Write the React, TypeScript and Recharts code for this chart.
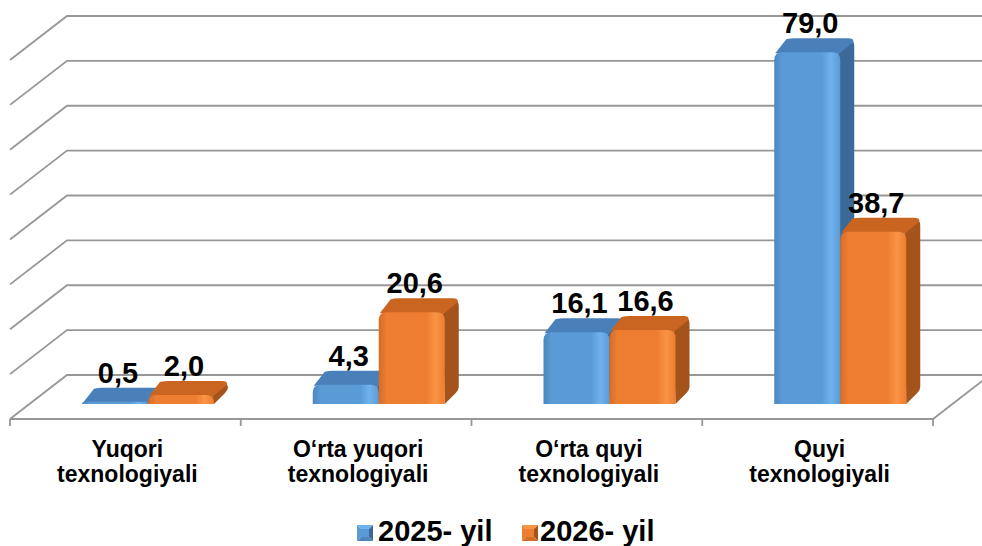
import React from 'react';
import { BarChart, Bar, XAxis, YAxis, CartesianGrid, Legend, LabelList } from 'recharts';

// ---- data ----
const categories = [
  'Yuqori\ntexnologiyali',
  'O‘rta yuqori\ntexnologiyali',
  'O‘rta quyi\ntexnologiyali',
  'Quyi\ntexnologiyali',
];
const series2025 = [0.5, 4.3, 16.1, 79.0];
const series2026 = [2.0, 20.6, 16.6, 38.7];
const seriesNames = ['2025- yil', '2026- yil'];
const yTicks = [0, 10, 20, 30, 40, 50, 60, 70, 80];

const data = categories.map((name, i) => ({ name, y2025: series2025[i], y2026: series2026[i] }));

// ---- style / layout ----
const W = 982;
const H = 546;
const FONT = '"Liberation Sans", Arial, sans-serif';
const DX = 14;
const DY = 14;
const FRONT_DROP = 29;
const FRONT_SCALE = 0.992;
const GRID = '#979797';

const palettes = {
  blue: { front: '#5B9BD5', light: '#6FB2EE', dark: '#4C86BE', top: '#4A80BA', side: '#3C6A98', id: 'gBlue' },
  orange: { front: '#ED7D31', light: '#FA9444', dark: '#D46D28', top: '#C96520', side: '#A4531B', id: 'gOrange' },
};

const frontGeom = (x: number, y: number, width: number, height: number) => {
  const base = y + height + FRONT_DROP;
  const h = Math.max(height * FRONT_SCALE, 1.5);
  return { x, top: base - h, base, w: width };
};

const makeShape = (p: typeof palettes.blue) => (props: any) => {
  const { x, y, width, height } = props;
  if (x == null || y == null || !width) return null;
  const g = frontGeom(x, y, width, height || 0);
  const r = Math.min(8, (g.base - g.top), width / 2);
  const t = g.top;
  const b = g.base;
  const front = `M${x},${b} L${x},${t + r} Q${x},${t} ${x + r},${t} L${x + width - r},${t} Q${x + width},${t} ${x + width},${t + r} L${x + width},${b} Z`;
  const side = `M${x + width - 2},${t + 2} L${x + width + DX - 3},${t - DY + 2} Q${x + width + DX},${t - DY + 3} ${x + width + DX},${t - DY + r} L${x + width + DX},${b - DY - 3} Q${x + width + DX},${b - DY} ${x + width + DX - 3},${b - DY + 3} L${x + width},${b} Z`;
  const top = `M${x + 1},${t + 1} L${x + DX - 2},${t - DY + 1} Q${x + DX + 2},${t - DY} ${x + DX + 6},${t - DY} L${x + width + DX - 6},${t - DY} Q${x + width + DX},${t - DY} ${x + width + DX - 1},${t - DY + 4} L${x + width - 2},${t + 2} Z`;
  return (
    <g>
      <defs>
        <linearGradient id={p.id} x1="0" y1="0" x2="1" y2="0">
          <stop offset="0%" stopColor={p.dark} />
          <stop offset="12%" stopColor={p.front} />
          <stop offset="72%" stopColor={p.front} />
          <stop offset="86%" stopColor={p.light} />
          <stop offset="100%" stopColor={p.front} />
        </linearGradient>
      </defs>
      <path d={side} fill={p.side} />
      <path d={top} fill={p.top} />
      <path d={front} fill={`url(#${p.id})`} />
    </g>
  );
};

const fmt = (v: any) => Number(v).toFixed(1).replace('.', ',');

const renderLabel = (props: any) => {
  const vb = props.viewBox || {};
  const x = props.x ?? vb.x;
  const y = props.y ?? vb.y;
  const width = props.width ?? vb.width;
  const height = props.height ?? vb.height;
  if (x == null || y == null) return null;
  const g = frontGeom(x, y, width, height || 0);
  return (
    <text
      x={x + width / 2 + 3}
      y={g.top - DY - 5}
      textAnchor="middle"
      fontFamily={FONT}
      fontWeight="bold"
      fontSize={29}
      fill="#000"
    >
      {fmt(props.value)}
    </text>
  );
};

const CategoryTick = (props: any) => {
  const { x, y, payload } = props;
  const lines = String(payload.value).split('\n');
  return (
    <g>
      {lines.map((l, i) => (
        <text
          key={i}
          x={x - 21}
          y={y + 82 + i * 25}
          textAnchor="middle"
          fontFamily={FONT}
          fontWeight="bold"
          fontSize={23}
          fill="#000"
        >
          {l}
        </text>
      ))}
    </g>
  );
};

const gridLine = (props: any) => {
  const { x1, y1, x2, index } = props;
  const isBottom =
    props.y != null && props.height != null ? Math.abs(y1 - (props.y + props.height)) < 0.5 : index === 0;
  const main = (
    <path d={`M${x1 - 23},${y1 + 44} L${x1 + 34},${y1} L${x2 + 40},${y1}`} stroke={GRID} strokeWidth={1.8} fill="none" />
  );
  if (!isBottom) return <g key={`gl-${index}`}>{main}</g>;
  const fy = y1 + 44;
  const left = x1 - 23;
  const right = x2 - 23;
  const step = (right - left) / categories.length;
  const ticks = [];
  for (let i = 0; i <= categories.length; i++) {
    const tx = left + i * step;
    ticks.push(<line key={i} x1={tx} y1={fy} x2={tx} y2={fy + 7} stroke={GRID} strokeWidth={1.8} />);
  }
  return (
    <g key={`gl-${index}`}>
      {main}
      <path d={`M${left},${fy} L${right},${fy} L${right + 57},${fy - 44}`} stroke={GRID} strokeWidth={1.8} fill="none" />
      {ticks}
    </g>
  );
};

const LegendIcon = ({ p }: { p: typeof palettes.blue }) => (
  <svg width={16} height={16} style={{ display: 'block' }}>
    <polygon points="0,0 16,0 8,8" fill={p.light} />
    <polygon points="0,0 8,8 0,16" fill={p.front} />
    <polygon points="16,0 16,16 8,8" fill={p.side} />
    <polygon points="0,16 8,8 16,16" fill={p.dark} />
    <rect x={4} y={4} width={8} height={8} fill={p.front} />
  </svg>
);

const LegendContent = () => {
  const items = [
    { name: seriesNames[0], p: palettes.blue, iconLeft: 357, textLeft: 378 },
    { name: seriesNames[1], p: palettes.orange, iconLeft: 522, textLeft: 540 },
  ];
  return (
    <div style={{ position: 'relative', width: W, height: 32 }}>
      {items.map((it) => (
        <React.Fragment key={it.name}>
          <div style={{ position: 'absolute', left: it.iconLeft, top: 10 }}>
            <LegendIcon p={it.p} />
          </div>
          <div
            style={{
              position: 'absolute',
              left: it.textLeft,
              top: 0,
              fontFamily: FONT,
              fontWeight: 'bold',
              fontSize: 29,
              lineHeight: '32px',
              whiteSpace: 'nowrap',
              color: '#000',
            }}
          >
            {it.name}
          </div>
        </React.Fragment>
      ))}
    </div>
  );
};

export default function App() {
  return (
    <div style={{ position: 'absolute', left: 0, top: 0, width: W, height: H, background: '#fff', overflow: 'hidden' }}>
      <BarChart
        width={W}
        height={H}
        data={data}
        margin={{ top: 16, right: 26, bottom: 51, left: 33 }}
        barGap={0}
      >
        <CartesianGrid vertical={false} horizontal={gridLine} />
        <XAxis
          dataKey="name"
          axisLine={false}
          tickLine={false}
          tickSize={0}
          tickMargin={0}
          height={120}
          interval={0}
          tick={<CategoryTick />}
        />
        <YAxis hide domain={[0, 80]} ticks={yTicks} />
        <Legend verticalAlign="middle" wrapperStyle={{ left: 0, top: 515, width: W, height: 32 }} content={() => <LegendContent />} />
        <Bar dataKey="y2025" name={seriesNames[0]} fill={palettes.blue.front} barSize={66} isAnimationActive={false} shape={makeShape(palettes.blue)}>
          <LabelList dataKey="y2025" content={renderLabel} />
        </Bar>
        <Bar dataKey="y2026" name={seriesNames[1]} fill={palettes.orange.front} barSize={66} isAnimationActive={false} shape={makeShape(palettes.orange)}>
          <LabelList dataKey="y2026" content={renderLabel} />
        </Bar>
      </BarChart>
    </div>
  );
}
